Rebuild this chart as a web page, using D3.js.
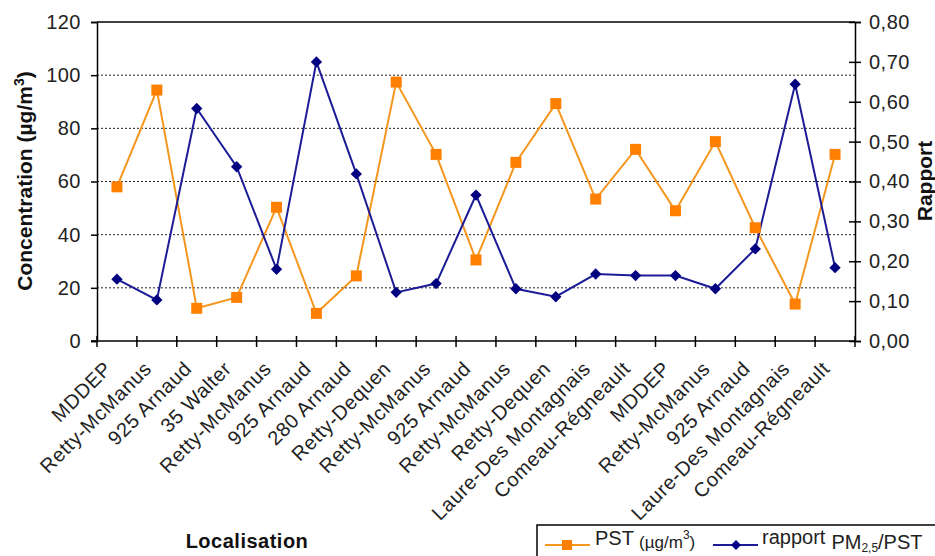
<!DOCTYPE html>
<html><head><meta charset="utf-8">
<script src="https://cdn.jsdelivr.net/npm/d3@7"></script>
<style>body{margin:0;background:#fff;} svg{display:block;font-family:"Liberation Sans",Arial,sans-serif;}</style>
</head><body><svg id="c" width="935" height="556"></svg>
<script>
const categories = ["MDDEP","Retty-McManus","925 Arnaud","35 Walter","Retty-McManus","925 Arnaud","280 Arnaud","Retty-Dequen","Retty-McManus","925 Arnaud","Retty-McManus","Retty-Dequen","Laure-Des Montagnais","Comeau-Régneault","MDDEP","Retty-McManus","925 Arnaud","Laure-Des Montagnais","Comeau-Régneault"];
const pst = [58.0,94.4,12.3,16.4,50.3,10.4,24.5,97.4,70.2,30.5,67.2,89.3,53.4,72.1,49.0,75.0,42.6,13.9,70.2];
const rapport = [0.155,0.103,0.583,0.437,0.180,0.700,0.419,0.122,0.144,0.366,0.131,0.111,0.168,0.164,0.164,0.131,0.231,0.644,0.184];
const leftTicks = [0,20,40,60,80,100,120];
const rightTicks = [0,0.1,0.2,0.3,0.4,0.5,0.6,0.7,0.8];

const L=97, R=855, T=22, B=341;
const svg = d3.select("#c");
const x = d3.scaleBand().domain(d3.range(categories.length)).range([L,R]);
const yL = d3.scaleLinear().domain([0,120]).range([B,T]);
const yR = d3.scaleLinear().domain([0,0.8]).range([B,T]);
const cx = i => x(i) + x.bandwidth()/2;

// gridlines
svg.append("g").selectAll("line").data(leftTicks.filter(d=>d>0&&d<120)).join("line")
  .attr("x1",L).attr("x2",R).attr("y1",d=>yL(d)).attr("y2",d=>yL(d))
  .attr("stroke","#222").attr("stroke-width",1).attr("stroke-dasharray","2,2");
// top border
svg.append("line").attr("x1",L).attr("x2",R).attr("y1",T).attr("y2",T).attr("stroke","#000").attr("stroke-width",1.5);

// left axis
const gl = svg.append("g").attr("transform",`translate(${L},0)`)
  .call(d3.axisLeft(yL).tickValues(leftTicks).tickSize(6).tickPadding(10));
gl.select(".domain").attr("stroke","#000").attr("stroke-width",1.5);
gl.selectAll(".tick line").attr("stroke","#000").attr("stroke-width",1.5);
gl.selectAll("text").attr("font-size",20).attr("fill","#222").attr("letter-spacing",0.5).style("font-family","'Liberation Sans',Arial,sans-serif");

// right axis
const gr = svg.append("g").attr("transform",`translate(${R},0)`)
  .call(d3.axisRight(yR).tickValues(rightTicks).tickSize(6).tickPadding(8).tickFormat(d=>d3.format(".2f")(d).replace(".",",")));
gr.select(".domain").attr("stroke","#000").attr("stroke-width",1.5);
gr.selectAll(".tick line").attr("x1",-6).attr("stroke","#000").attr("stroke-width",1.5);
gr.selectAll("text").attr("font-size",20).attr("fill","#222").attr("letter-spacing",0.5).style("font-family","'Liberation Sans',Arial,sans-serif");

// bottom axis
svg.append("line").attr("x1",L-6).attr("x2",R).attr("y1",B).attr("y2",B).attr("stroke","#000").attr("stroke-width",1.5);
svg.append("g").selectAll("line").data(d3.range(categories.length+1)).join("line")
  .attr("x1",i=>L+i*x.step()).attr("x2",i=>L+i*x.step()).attr("y1",B-5).attr("y2",B+6)
  .attr("stroke","#000").attr("stroke-width",1.5);
svg.append("g").selectAll("text").data(categories).join("text")
  .attr("transform",(d,i)=>`translate(${cx(i)-9},${B+24}) rotate(-45)`)
  .attr("text-anchor","end").attr("dy","0.35em").attr("font-size",20).attr("letter-spacing",0.6).attr("fill","#222").text(d=>d);

// lines
const lineL = d3.line().x((d,i)=>cx(i)).y(d=>yL(d));
const lineR = d3.line().x((d,i)=>cx(i)).y(d=>yR(d));
svg.append("path").datum(pst).attr("d",lineL).attr("fill","none").attr("stroke","#f5961e").attr("stroke-width",2);
svg.append("path").datum(rapport).attr("d",lineR).attr("fill","none").attr("stroke","#1c1c96").attr("stroke-width",2);
svg.append("g").selectAll("rect").data(pst).join("rect")
  .attr("x",(d,i)=>cx(i)-5.5).attr("y",d=>yL(d)-5.5).attr("width",11).attr("height",11).attr("fill","#ff8000");
svg.append("g").selectAll("path").data(rapport).join("path")
  .attr("transform",(d,i)=>`translate(${cx(i)},${yR(d)}) rotate(45)`).attr("d",d3.symbol().type(d3.symbolSquare).size(64)).attr("fill","#000080");

// axis titles
const yt = svg.append("text").attr("transform","translate(32,181) rotate(-90)").attr("text-anchor","middle")
  .attr("font-size",21).attr("font-weight","bold").attr("fill","#111");
yt.append("tspan").text("Concentration (µg/m");
yt.append("tspan").attr("dy",-8).attr("font-size",14).text("3");
yt.append("tspan").attr("dy",8).text(")");
svg.append("text").attr("transform","translate(932,181) rotate(-90)").attr("text-anchor","middle")
  .attr("font-size",21).attr("font-weight","bold").attr("fill","#111").text("Rapport");
svg.append("text").attr("x",247).attr("y",548).attr("text-anchor","middle")
  .attr("font-size",20).attr("font-weight","bold").attr("fill","#111").attr("letter-spacing",0.5).text("Localisation");

// legend
svg.append("rect").attr("x",537).attr("y",525).attr("width",410).attr("height",40).attr("fill","#fff").attr("stroke","#000").attr("stroke-width",1.5);
svg.append("line").attr("x1",545).attr("x2",590).attr("y1",545).attr("y2",545).attr("stroke","#f5961e").attr("stroke-width",2);
svg.append("rect").attr("x",562).attr("y",540).attr("width",10).attr("height",10).attr("fill","#ff8000");
const t1 = svg.append("text").attr("x",595).attr("y",545).attr("font-size",20).attr("fill","#222");
t1.append("tspan").text("PST ");
t1.append("tspan").attr("font-size",17).attr("dy",3).text("(µg/m");
t1.append("tspan").attr("font-size",12).attr("dy",-9).text("3");
t1.append("tspan").attr("font-size",17).attr("dy",9).text(")");
svg.append("line").attr("x1",713).attr("x2",758).attr("y1",545).attr("y2",545).attr("stroke","#1c1c96").attr("stroke-width",2);
svg.append("path").attr("transform","translate(736,545) rotate(45)").attr("d",d3.symbol().type(d3.symbolSquare).size(50)).attr("fill","#000080");
const t2 = svg.append("text").attr("x",762).attr("y",544).attr("font-size",20).attr("fill","#222");
t2.append("tspan").text("rapport");
t2.append("tspan").attr("dx",6).attr("dy",5).text("PM");
t2.append("tspan").attr("font-size",12).attr("dy",3).text("2,5");
t2.append("tspan").attr("dy",-3).text("/PST");
</script></body></html>
